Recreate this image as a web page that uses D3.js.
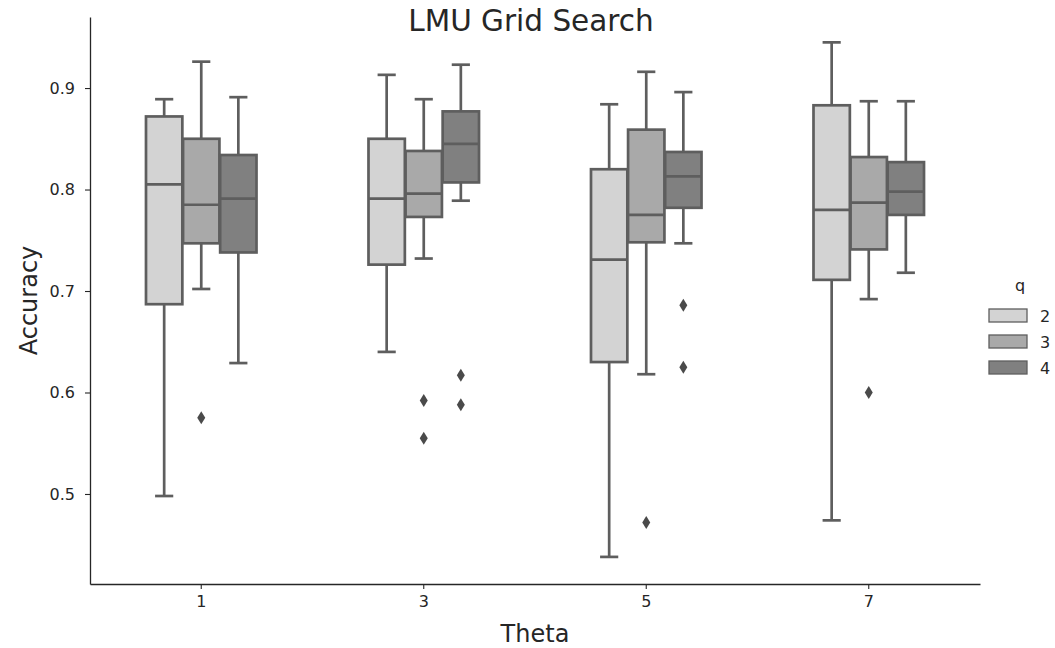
<!DOCTYPE html>
<html>
<head>
<meta charset="utf-8">
<script src="https://cdn.jsdelivr.net/npm/d3@7"></script>
<style>
  html, body { margin: 0; padding: 0; background: #fff; }
  text { font-family: "DejaVu Sans", sans-serif; fill: #262626; }
</style>
</head>
<body>
<svg id="chart" width="1055" height="648"></svg>
<script>
// Theta values on the x axis and q values as the hue groups
const thetas = ["1", "3", "5", "7"];
const qs = ["2", "3", "4"];
const yTicks = [0.5, 0.6, 0.7, 0.8, 0.9];

// Five-number summaries per theta: [lower whisker, Q1, median, Q3, upper whisker]
const statsQ2 = [
  [0.498, 0.687, 0.805, 0.872, 0.889],
  [0.640, 0.726, 0.791, 0.850, 0.913],
  [0.438, 0.630, 0.731, 0.820, 0.884],
  [0.474, 0.711, 0.780, 0.883, 0.945]
];
const statsQ3 = [
  [0.702, 0.747, 0.785, 0.850, 0.926],
  [0.732, 0.773, 0.796, 0.838, 0.889],
  [0.618, 0.748, 0.775, 0.859, 0.916],
  [0.692, 0.741, 0.787, 0.832, 0.887]
];
const statsQ4 = [
  [0.629, 0.738, 0.791, 0.834, 0.891],
  [0.789, 0.807, 0.845, 0.877, 0.923],
  [0.747, 0.782, 0.813, 0.837, 0.896],
  [0.718, 0.775, 0.798, 0.827, 0.887]
];

// Points beyond the whiskers
const outliersQ2 = [[], [], [], []];
const outliersQ3 = [[0.575], [0.592, 0.555], [0.472], [0.600]];
const outliersQ4 = [[], [0.617, 0.588], [0.686, 0.625], []];

const fills = ["#d3d3d3", "#a9a9a9", "#808080"];
const series = [
  { q: qs[0], stats: statsQ2, outliers: outliersQ2, fill: fills[0] },
  { q: qs[1], stats: statsQ3, outliers: outliersQ3, fill: fills[1] },
  { q: qs[2], stats: statsQ4, outliers: outliersQ4, fill: fills[2] }
];

const svg = d3.select("#chart");
const plotLeft = 90, plotRight = 980, plotTop = 17, plotBottom = 584;
const lineColor = "#5e5e5e";

const x = d3.scaleBand().domain(thetas).range([plotLeft, plotRight]).padding(0);
const y = d3.scaleLinear().domain([0.4113, 0.970]).range([plotBottom, plotTop]);

const slot = x.bandwidth() * 0.5 / qs.length;
const hue = d3.scalePoint().domain(qs).range([-slot, slot]);
const boxW = slot * 0.98;

// Boxes
const g = svg.append("g");
series.forEach(s => {
  thetas.forEach((t, i) => {
    const [lo, q1, med, q3, hi] = s.stats[i];
    const cx = x(t) + x.bandwidth() / 2 + hue(s.q);
    const grp = g.append("g");
    // whiskers
    grp.append("line").attr("x1", cx).attr("x2", cx).attr("y1", y(q1)).attr("y2", y(lo))
      .attr("stroke", lineColor).attr("stroke-width", 2.7);
    grp.append("line").attr("x1", cx).attr("x2", cx).attr("y1", y(q3)).attr("y2", y(hi))
      .attr("stroke", lineColor).attr("stroke-width", 2.7);
    // caps
    [lo, hi].forEach(v => {
      grp.append("line").attr("x1", cx - boxW / 4).attr("x2", cx + boxW / 4)
        .attr("y1", y(v)).attr("y2", y(v))
        .attr("stroke", lineColor).attr("stroke-width", 2.7);
    });
    // box
    grp.append("rect").attr("x", cx - boxW / 2).attr("width", boxW)
      .attr("y", y(q3)).attr("height", y(q1) - y(q3))
      .attr("fill", s.fill).attr("stroke", lineColor).attr("stroke-width", 2.7);
    // median
    grp.append("line").attr("x1", cx - boxW / 2).attr("x2", cx + boxW / 2)
      .attr("y1", y(med)).attr("y2", y(med))
      .attr("stroke", lineColor).attr("stroke-width", 2.7);
    // outliers as thin diamonds
    s.outliers[i].forEach(v => {
      const py = y(v);
      grp.append("path")
        .attr("d", `M${cx},${py - 6.5}L${cx + 4},${py}L${cx},${py + 6.5}L${cx - 4},${py}Z`)
        .attr("fill", "#4a4a4a");
    });
  });
});

// Axes
const yAxis = d3.axisLeft(y).tickValues(yTicks).tickFormat(d3.format(".1f"))
  .tickSize(5).tickSizeOuter(0).tickPadding(10);
const yg = svg.append("g").attr("transform", `translate(${plotLeft},0)`).call(yAxis);
const xAxis = d3.axisBottom(x).tickSize(5).tickSizeOuter(0).tickPadding(7);
const xg = svg.append("g").attr("transform", `translate(0,${plotBottom})`).call(xAxis);
[yg, xg].forEach(a => {
  a.select(".domain").attr("stroke", "#262626").attr("stroke-width", 1.3);
  a.selectAll(".tick line").attr("stroke", "#262626").attr("stroke-width", 1.1);
  a.selectAll(".tick text").style("font-size", "16px").attr("fill", "#262626")
    .style("font-family", "DejaVu Sans, sans-serif");
});

// Title and axis labels
svg.append("text").attr("x", 531).attr("y", 31).attr("text-anchor", "middle")
  .style("font-size", "29.5px").text("LMU Grid Search");
svg.append("text").attr("x", (plotLeft + plotRight) / 2).attr("y", 642).attr("text-anchor", "middle")
  .style("font-size", "24px").text("Theta");
svg.append("text").attr("transform", `translate(37,${(plotTop + plotBottom) / 2}) rotate(-90)`)
  .attr("text-anchor", "middle").style("font-size", "24px").text("Accuracy");

// Legend
const lg = svg.append("g");
lg.append("text").attr("x", 1020).attr("y", 291).attr("text-anchor", "middle")
  .style("font-size", "16px").text("q");
series.forEach((s, i) => {
  const yy = 309 + i * 26;
  lg.append("rect").attr("x", 989).attr("y", yy).attr("width", 38).attr("height", 13)
    .attr("fill", s.fill).attr("stroke", lineColor).attr("stroke-width", 1.3);
  lg.append("text").attr("x", 1040).attr("y", yy + 12.5).style("font-size", "16px").text(s.q);
});
</script>
</body>
</html>
